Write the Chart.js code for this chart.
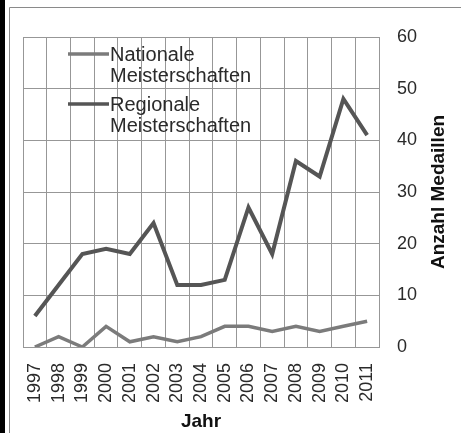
<!DOCTYPE html>
<html>
<head>
<meta charset="utf-8">
<script src="https://cdn.jsdelivr.net/npm/chart.js@4.4.1/dist/chart.umd.min.js"></script>
<style>
html, body { margin: 0; padding: 0; background: #fff; }
#wrap { position: relative; width: 461px; height: 433px; }
</style>
</head>
<body>
<div id="wrap"><canvas id="chart"></canvas></div>
<script>
const years = ['1997', '1998', '1999', '2000', '2001', '2002', '2003', '2004',
    '2005', '2006', '2007', '2008', '2009', '2010', '2011']
const nationale = [0, 2, 0, 4, 1, 2, 1, 2, 4, 4, 3, 4, 3, 4, 5]
const regionale = [6, 12, 18, 19, 18, 24, 12, 12, 13, 27, 18, 36, 33, 48, 41]
const yMin = 0
const yMax = 60
const yStep = 10
const legendLines = [['Nationale', 'Meisterschaften'], ['Regionale', 'Meisterschaften']]
const xTitle = 'Jahr'
const yTitle = 'Anzahl Medaillen'

const FONT = "'Liberation Sans', Arial, sans-serif"
const GRID = '#979797'

// frame round the picture + black bar on the left
const framePlugin = {
    id: 'frame',
    beforeDraw(chart) {
        const c = chart.ctx
        c.save()
        c.fillStyle = '#000'
        c.fillRect(0, 0, 5, chart.height)
        c.strokeStyle = '#8a8a8a'
        c.lineWidth = 1
        c.beginPath()
        c.moveTo(9.5, chart.height)
        c.lineTo(9.5, 7.5)
        c.lineTo(chart.width, 7.5)
        c.stroke()
        c.restore()
    }
}

// legend inside the plot, two-line labels
const legendPlugin = {
    id: 'innerLegend',
    afterDatasetsDraw(chart) {
        const c = chart.ctx
        const a = chart.chartArea
        c.save()
        c.font = '20px ' + FONT
        c.textBaseline = 'middle'
        c.textAlign = 'left'
        chart.data.datasets.forEach((ds, i) => {
            const y = a.top + 17 + i * 50
            c.strokeStyle = ds.borderColor
            c.lineWidth = 3.5
            c.beginPath()
            c.moveTo(a.left + 45, y)
            c.lineTo(a.left + 86, y)
            c.stroke()
            c.fillStyle = '#2a2a2a'
            legendLines[i].forEach((t, j) => c.fillText(t, a.left + 87, y + 1 + j * 21))
        })
        c.restore()
    }
}

// y title reads bottom to top on the right side
const yTitlePlugin = {
    id: 'yTitle',
    afterDraw(chart) {
        const c = chart.ctx
        const a = chart.chartArea
        c.save()
        c.translate(439, (a.top + a.bottom) / 2)
        c.rotate(-Math.PI / 2)
        c.font = 'bold 19px ' + FONT
        c.fillStyle = '#111'
        c.textAlign = 'center'
        c.textBaseline = 'middle'
        c.fillText(yTitle, 0, 0)
        c.restore()
    }
}

const ctx = document.querySelector('#chart')

new Chart(ctx, {
    type: 'line',
    data: {
        labels: years,
        datasets: [{
            label: legendLines[0].join(' '),
            data: nationale,
            borderColor: '#7b7b7b',
            borderWidth: 3.5,
            pointRadius: 0,
            fill: false,
            tension: 0
        }, {
            label: legendLines[1].join(' '),
            data: regionale,
            borderColor: '#555555',
            borderWidth: 4,
            pointRadius: 0,
            fill: false,
            tension: 0
        }]
    },
    options: {
        responsive: true,
        maintainAspectRatio: false,
        animation: false,
        layout: { padding: { left: 23, top: 37, right: 0, bottom: 0 } },
        plugins: {
            legend: { display: false },
            tooltip: { enabled: false }
        },
        scales: {
            x: {
                offset: true,
                grid: { offset: true, color: GRID, drawTicks: false },
                border: { color: GRID },
                ticks: {
                    autoSkip: false,
                    minRotation: 90,
                    maxRotation: 90,
                    padding: 16,
                    color: '#2a2a2a',
                    font: { family: FONT, size: 18 }
                },
                title: {
                    display: true,
                    text: xTitle,
                    color: '#111',
                    padding: { top: 0, bottom: 0 },
                    font: { family: FONT, size: 19, weight: 'bold' }
                },
                afterFit(scale) { scale.height = 86 }
            },
            y: {
                position: 'right',
                min: yMin,
                max: yMax,
                grid: { color: GRID, drawTicks: false },
                border: { color: GRID },
                ticks: {
                    stepSize: yStep,
                    padding: 18,
                    color: '#2a2a2a',
                    font: { family: FONT, size: 18 }
                },
                afterFit(scale) { scale.width = 82 }
            }
        }
    },
    plugins: [framePlugin, legendPlugin, yTitlePlugin]
})
</script>
</body>
</html>
